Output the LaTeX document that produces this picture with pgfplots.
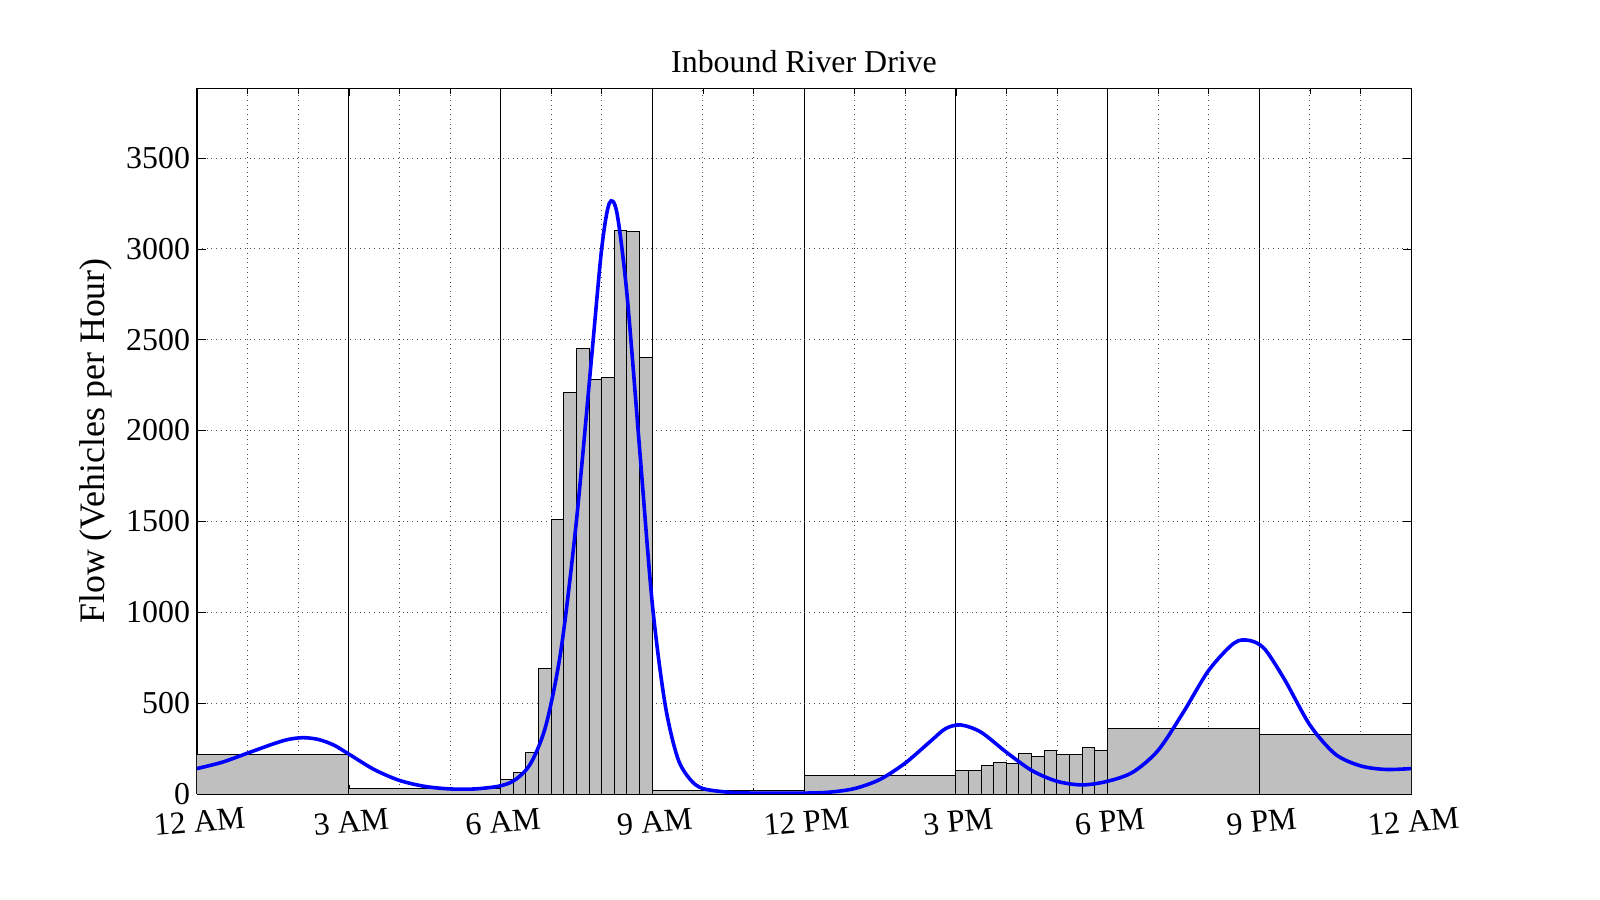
\documentclass[border=0pt]{standalone}
\usepackage{pgfplots}
\pgfplotsset{compat=1.18}
\usepackage{fontspec}
\setmainfont{Liberation Serif}
\definecolor{bargray}{HTML}{BFBFBF}
\begin{document}
\begin{tikzpicture}
\path[use as bounding box] (-98.5bp,-53bp) rectangle (701.5bp,397bp);
\begin{axis}[at={(0,0)},anchor=south west,scale only axis,
 width=607bp,height=353bp,
 xmin=0,xmax=24,ymin=0,ymax=3885,
 xtick={0,3,...,24},
 xticklabels={12 AM,3 AM,6 AM,9 AM,12 PM,3 PM,6 PM,9 PM,12 AM},
 minor xtick={1,2,4,5,7,8,10,11,13,14,16,17,19,20,22,23},
 ytick={0,500,...,3500},
 /pgf/number format/assume math mode=true,
 scaled y ticks=false,
 yticklabel style={/pgf/number format/1000 sep={}},
 xticklabel style={rotate=5,anchor=north,yshift=-5bp},
 tick label style={font=\fontsize{16}{18}\selectfont},
 tick align=inside,tick style={black},
 xmajorgrids,ymajorgrids,xminorgrids,
 major x grid style={black,solid,line width=0.5pt},
 minor x grid style={black!70,dotted},
 major y grid style={black!70,dotted},
 title={Inbound River Drive},
 title style={font=\fontsize{16}{18}\selectfont,yshift=-2bp},
 ylabel={Flow (Vehicles per Hour)},
 ylabel style={font=\fontsize{18}{20}\selectfont},
]
\addplot[ybar interval,fill=bargray,draw=black,line width=0.5pt] coordinates {
(0,220)(3,30)
(6,80)(6.25,120)(6.5,230)(6.75,690)(7,1510)(7.25,2210)(7.5,2450)(7.75,2280)(8,2290)(8.25,3100)(8.5,3095)(8.75,2400)
(9,20)(12,100)
(15,130)(15.25,130)(15.5,158)(15.75,173)(16,168)(16.25,222)(16.5,205)(16.75,238)(17,216)(17.25,216)(17.5,255)(17.75,238)
(18,360)(21,330)(24,330)};
\addplot[blue,line width=1.8pt,smooth] coordinates {
(0,140)(0.5,175)(1,225)(1.5,275)(1.8,300)(2.1,310)(2.4,300)(2.7,270)(3,220)(3.5,135)(4,75)(4.5,42)(5,28)(5.5,28)(6,45)(6.3,80)(6.6,170)
(6.9,380)(7.2,800)(7.5,1500)(7.8,2400)(8.0,3000)(8.15,3250)(8.3,3200)(8.5,2750)(8.75,1900)(9,1050)(9.25,500)(9.5,200)(9.75,80)(10,30)(10.5,10)
(11,5)(12,5)(12.5,10)(13,30)(13.5,80)(14,170)(14.5,290)(14.8,360)(15.1,380)(15.5,340)(16,230)(16.5,130)(17,70)(17.5,50)(18,70)(18.5,120)
(19,240)(19.5,450)(20,680)(20.5,830)(20.8,845)(21.1,800)(21.5,630)(22,380)(22.5,220)(23,155)(23.5,135)(24,140)};
\end{axis}
\end{tikzpicture}
\end{document}
